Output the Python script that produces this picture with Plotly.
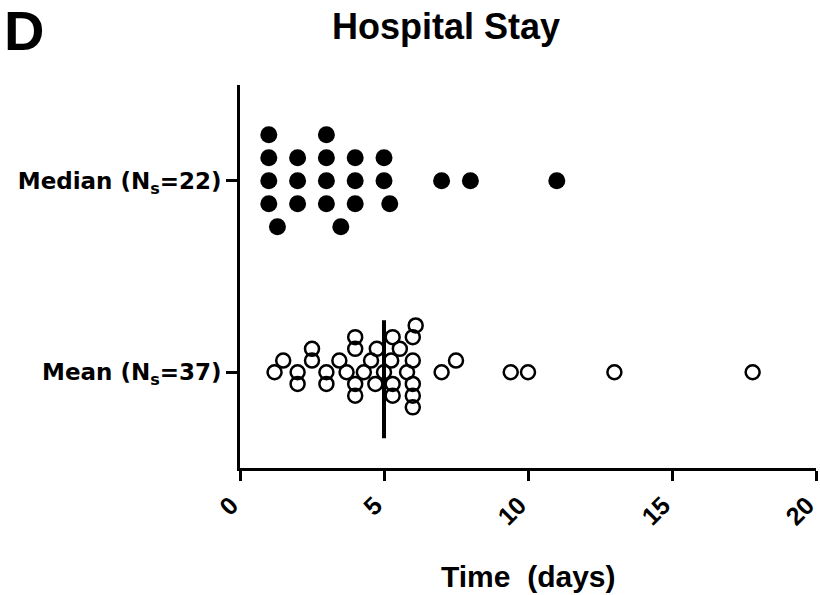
import numpy as np
import plotly.graph_objects as go

# ---------------- data ----------------
categories = ["Mean (N<sub>s</sub>=37)", "Median (N<sub>s</sub>=22)"]
median_days = [1, 1, 1, 1, 1.3, 2, 2, 2, 3, 3, 3, 3, 3.5, 4, 4, 4, 5, 5, 5.2, 7, 8, 11]
mean_days = [1.2, 1.5, 2.0, 2.0, 2.5, 2.5, 3.0, 3.0, 3.45, 3.7, 4.0, 4.0, 4.0, 4.0,
             4.3, 4.55, 4.7, 4.75, 5.0, 5.25, 5.3, 5.3, 5.3, 5.55, 5.8,
             6.0, 6.0, 6.0, 6.0, 6.0, 6.1, 7.0, 7.5, 9.4, 10.0, 13.0, 17.8]
x_ticks = [0, 5, 10, 15, 20]
x_range = [0, 20]

# ---------------- geometry ----------------
W, H = 820, 595
ML, MR, MT, MB = 240, 4, 85, 127
PW, PH = W - ML - MR, H - MT - MB
Y_RANGE = [-0.5, 1.5]
XPX = PW / (x_range[1] - x_range[0])
YPX = PH / (Y_RANGE[1] - Y_RANGE[0])


def swarm(values, diam_px):
    """Dot-plot spreading: place each point (in value order) in the first row,
    from the centre outward (0, up1, down1, up2, ...), where it does not
    overlap a point already placed in that same row."""
    placed = []
    rows = [0] * len(values)
    for i in np.argsort(values, kind="stable"):
        x = values[i] * XPX
        k = 0
        while True:
            s = 0 if k == 0 else (-((k + 1) // 2) if k % 2 else k // 2)
            if all(abs(x - px) >= diam_px - 1e-9 for px, ps in placed if ps == s):
                break
            k += 1
        placed.append((x, s))
        rows[i] = s
    return rows


MED_STEP, MEAN_STEP = 23, 11.7
med_rows = swarm(median_days, 17)
mean_rows = swarm(mean_days, 16)
med_y = [1 - r * MED_STEP / YPX for r in med_rows]
mean_y = [0 - r * MEAN_STEP / YPX for r in mean_rows]

fig = go.Figure()
fig.add_trace(go.Scatter(
    x=median_days, y=med_y, mode="markers",
    marker=dict(symbol="circle", size=17, color="black", line=dict(width=0)),
    showlegend=False, hoverinfo="x"))
fig.add_trace(go.Scatter(
    x=mean_days, y=mean_y, mode="markers",
    marker=dict(symbol="circle-open", size=14, color="black", line=dict(width=2.5, color="black")),
    showlegend=False, hoverinfo="x"))

med_of_mean = float(np.median(mean_days))
fig.add_trace(go.Scatter(
    x=[med_of_mean, med_of_mean], y=[(372 - 320) / YPX, (372 - 438) / YPX],
    mode="lines", line=dict(color="black", width=4), showlegend=False, hoverinfo="skip"))

fig.update_layout(
    width=W, height=H, autosize=False,
    margin=dict(l=ML, r=MR, t=MT, b=MB, pad=0),
    paper_bgcolor="white", plot_bgcolor="white",
    xaxis=dict(range=x_range, tickvals=x_ticks, ticktext=[str(t) for t in x_ticks],
               showline=True, linecolor="black", linewidth=2.5, mirror=False,
               ticks="outside", ticklen=10, tickwidth=2.5, tickcolor="black",
               tickangle=-45, showgrid=False, zeroline=False,
               ticklabeloverflow="allow", automargin=False, ticklabelshift=-9,
               tickfont=dict(family="Liberation Sans", size=25, color="black", weight="bold")),
    yaxis=dict(range=Y_RANGE, tickvals=[0, 1], ticktext=categories,
               showline=True, linecolor="black", linewidth=2.5,
               ticks="outside", ticklen=11, tickwidth=2.5, tickcolor="black",
               showgrid=False, zeroline=False, automargin=False,
               tickfont=dict(family="DejaVu Sans", size=23, color="black", weight="bold")),
)


def px2paper(X, Y):
    return (X - ML) / PW, (MT + PH - Y) / PH


ax, ay = px2paper(446, 27)
fig.add_annotation(text="Hospital Stay", x=ax, y=ay, xref="paper", yref="paper",
                   xanchor="center", yanchor="middle", showarrow=False,
                   font=dict(family="Liberation Sans", size=36, color="black", weight="bold"))
ax, ay = px2paper(23.5, 30)
fig.add_annotation(text="D", x=ax, y=ay, xref="paper", yref="paper",
                   xanchor="center", yanchor="middle", showarrow=False,
                   font=dict(family="Liberation Sans", size=56, color="black", weight="bold"))
ax, ay = px2paper(528, 576.5)
fig.add_annotation(text="Time\u00a0 (days)", x=ax, y=ay, xref="paper", yref="paper",
                   xanchor="center", yanchor="middle", showarrow=False,
                   font=dict(family="Liberation Sans", size=30, color="black", weight="bold"))

fig.write_html("out.html", config={"displayModeBar": False},
               post_script="document.body.style.margin='0';document.body.style.overflow='hidden';")
